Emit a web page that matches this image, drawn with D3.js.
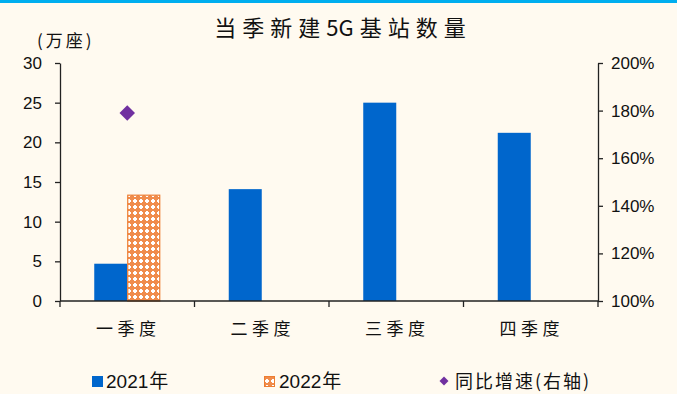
<!DOCTYPE html>
<html>
<head>
<meta charset="utf-8">
<script src="https://cdn.jsdelivr.net/npm/d3@7"></script>
<style>
  html, body { margin: 0; padding: 0; background: #FFFAF0; }
  svg { display: block; }
  text { font-family: "Liberation Sans", Arial, sans-serif; fill: #111; }
  .cjk { font-family: "Noto Sans CJK SC", "Noto Sans CJK JP", sans-serif; }
</style>
</head>
<body>
<svg id="chart" width="677" height="394"></svg>
<script>
// Quarterly new 5G base stations (10k units) and YoY growth
const quarters = ["一季度", "二季度", "三季度", "四季度"];
const series2021 = [4.7, 14.1, 25.0, 21.2];
const series2022 = [13.4, null, null, null];
const yoyGrowth = [1.79, null, null, null];
const leftTicks = [0, 5, 10, 15, 20, 25, 30];
const rightTicks = [1.0, 1.2, 1.4, 1.6, 1.8, 2.0];
const seriesNames = ["2021年", "2022年", "同比增速(右轴)"];

const svg = d3.select("#chart");
const W = 677, H = 394;
const m = { left: 60, right: 79, top: 63, bottom: 93 };
const x0 = m.left, x1 = W - m.right, yTop = m.top, yBot = H - m.bottom;

const blue = "#0066CC", orange = "#ED7D31", purple = "#7030A0";

svg.append("rect").attr("width", W).attr("height", H).attr("fill", "#FFFAF0");
svg.append("rect").attr("x", 0).attr("y", 0).attr("width", W).attr("height", 3).attr("fill", "#00AEEF");

// Cross-hatch pattern for the 2022 bars
const defs = svg.append("defs");
const pat = defs.append("pattern").attr("id", "cross").attr("patternUnits", "userSpaceOnUse")
  .attr("width", 6).attr("height", 6);
pat.append("rect").attr("width", 6).attr("height", 6).attr("fill", "#F08C4C");
pat.append("rect").attr("x", 2).attr("y", 1).attr("width", 2).attr("height", 4).attr("fill", "#FFFFFF");
pat.append("rect").attr("x", 1).attr("y", 2).attr("width", 4).attr("height", 2).attr("fill", "#FFFFFF");

const x = d3.scaleBand().domain(quarters).range([x0, x1]);
const yL = d3.scaleLinear().domain([0, 30]).range([yBot, yTop]);
const yR = d3.scaleLinear().domain([1.0, 2.0]).range([yBot, yTop]);
const barW = 33;

// Bars
const g = svg.append("g");
g.selectAll("rect.b21").data(quarters).join("rect")
  .attr("x", d => x(d) + x.bandwidth() / 2 - barW)
  .attr("y", (d, i) => yL(series2021[i]))
  .attr("width", barW)
  .attr("height", (d, i) => yBot - yL(series2021[i]))
  .attr("fill", blue);
g.selectAll("rect.b22").data(quarters.filter((d, i) => series2022[i] != null)).join("rect")
  .attr("x", d => x(d) + x.bandwidth() / 2 + 0.5)
  .attr("y", d => yL(series2022[quarters.indexOf(d)]) + 0.5)
  .attr("width", barW - 1)
  .attr("height", d => yBot - yL(series2022[quarters.indexOf(d)]) - 0.5)
  .attr("fill", "url(#cross)").attr("stroke", orange).attr("stroke-width", 1.2);

// YoY markers (square turned 45°)
g.selectAll("path.yoy").data(quarters.filter((d, i) => yoyGrowth[i] != null)).join("path")
  .attr("d", d3.symbol(d3.symbolSquare, 120))
  .attr("transform", d => `translate(${x(d) + x.bandwidth() / 2},${yR(yoyGrowth[quarters.indexOf(d)])}) rotate(45)`)
  .attr("fill", purple);

// Axes
const axisStyle = sel => {
  sel.selectAll("path, line").attr("stroke", "#222").attr("stroke-width", 1.3);
  sel.selectAll("text").attr("font-size", 17).attr("fill", "#111")
    .style("font-family", "'Liberation Sans', Arial, sans-serif");
};
svg.append("g").attr("transform", `translate(${x0},0)`)
  .call(d3.axisLeft(yL).tickValues(leftTicks).tickSize(5).tickSizeOuter(0).tickPadding(13))
  .call(axisStyle);
svg.append("g").attr("transform", `translate(${x1},0)`)
  .call(d3.axisRight(yR).tickValues(rightTicks).tickSize(5).tickSizeOuter(0).tickPadding(8)
    .tickFormat(d3.format(".0%")))
  .call(axisStyle);

// Category axis with boundary ticks
const xa = svg.append("g");
xa.append("line").attr("x1", x0).attr("x2", x1).attr("y1", yBot).attr("y2", yBot)
  .attr("stroke", "#222").attr("stroke-width", 1.3);
const bounds = quarters.map(d => x(d)).concat([x1]);
xa.selectAll("line.tk").data(bounds).join("line")
  .attr("x1", d => d).attr("x2", d => d).attr("y1", yBot).attr("y2", yBot + 6)
  .attr("stroke", "#222").attr("stroke-width", 1.3);
xa.selectAll("text").data(quarters).join("text")
  .attr("class", "cjk")
  .attr("x", d => x(d) + x.bandwidth() / 2 + 1).attr("y", yBot + 34)
  .attr("text-anchor", "middle").attr("font-size", 17).attr("letter-spacing", 4.5)
  .text(d => d);

// Title and unit
const title = svg.append("text").attr("class", "cjk").attr("x", 343).attr("y", 36)
  .attr("text-anchor", "middle").attr("font-size", 22);
title.append("tspan").attr("letter-spacing", 6).text("当季新建");
title.append("tspan").text("5G");
title.append("tspan").attr("dx", 6).attr("letter-spacing", 6).text("基站数量");
svg.append("text").attr("class", "cjk").attr("x", 37).attr("y", 47)
  .attr("font-size", 17).attr("letter-spacing", 3).text("(万座)");

// Legend
const lg = svg.append("g");
const ly = 388;
lg.append("rect").attr("x", 92).attr("y", ly - 12).attr("width", 11).attr("height", 11).attr("fill", blue);
lg.append("text").attr("x", 106).attr("y", ly).attr("font-size", 19)
  .html(`2021<tspan class="cjk" dx="1">年</tspan>`);
lg.append("rect").attr("x", 264.5).attr("y", ly - 11.5).attr("width", 10).attr("height", 10)
  .attr("fill", "url(#cross)").attr("stroke", orange).attr("stroke-width", 1);
lg.append("text").attr("x", 279).attr("y", ly).attr("font-size", 19)
  .html(`2022<tspan class="cjk" dx="1">年</tspan>`);
lg.append("path").attr("d", d3.symbol(d3.symbolSquare, 40))
  .attr("transform", `translate(444,${ly - 7}) rotate(45)`).attr("fill", purple);
lg.append("text").attr("class", "cjk").attr("x", 455).attr("y", ly).attr("font-size", 18)
  .attr("letter-spacing", 2).text(seriesNames[2]);
</script>
</body>
</html>
